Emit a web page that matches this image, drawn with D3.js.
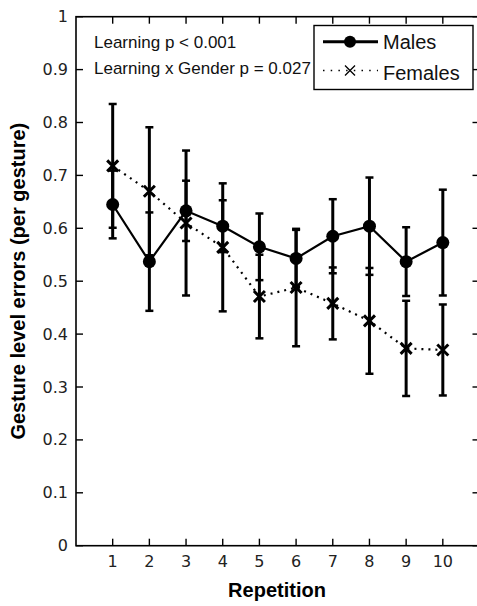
<!DOCTYPE html>
<html>
<head>
<meta charset="utf-8">
<script src="https://cdnjs.cloudflare.com/ajax/libs/d3/7.8.5/d3.min.js"></script>
<style>
  body { margin: 0; background: #fff; }
  svg { display: block; }
  .tick-label { font-family: "DejaVu Sans", sans-serif; font-size: 16px; fill: #222; }
  .axis-title { font-family: "Liberation Sans", Arial, sans-serif; font-size: 20px; font-weight: bold; fill: #000; }
  .note { font-family: "Liberation Sans", Arial, sans-serif; font-size: 17px; fill: #111; }
  .legend-text { font-family: "Liberation Sans", Arial, sans-serif; font-size: 20px; fill: #111; }
</style>
</head>
<body>
<svg width="477" height="606"></svg>
<script>
// values
var repetitions = [1, 2, 3, 4, 5, 6, 7, 8, 9, 10];
var maleMean   = [0.645, 0.537, 0.633, 0.604, 0.565, 0.543, 0.585, 0.604, 0.537, 0.573];
var maleErr    = [0.064, 0.093, 0.057, 0.049, 0.063, 0.054, 0.070, 0.092, 0.065, 0.100];
var femaleMean = [0.718, 0.670, 0.610, 0.564, 0.471, 0.488, 0.458, 0.425, 0.373, 0.370];
var femaleErr  = [0.117, 0.121, 0.137, 0.121, 0.079, 0.111, 0.068, 0.100, 0.090, 0.086];
var yTicks = [0, 0.1, 0.2, 0.3, 0.4, 0.5, 0.6, 0.7, 0.8, 0.9, 1];
var notes = ["Learning p < 0.001", "Learning x Gender p = 0.027"];
var seriesNames = ["Males", "Females"];

const svg = d3.select("svg"),
      x   = d3.scaleLinear().domain([0, 11]).range([76, 479.5]),
      y   = d3.scaleLinear().domain([0, 1]).range([545.7, 16.7]),
      tickLen = 7;

// axes box
svg.append("rect")
    .attr("x", x(0)).attr("y", y(1))
    .attr("width", x(11) - x(0)).attr("height", y(0) - y(1))
    .attr("fill", "none").attr("stroke", "#000").attr("stroke-width", 1.6);

// ticks pointing inward on all sides
const tickG = svg.append("g").attr("stroke", "#000").attr("stroke-width", 1.4);
yTicks.forEach(function(t) {
    tickG.append("line").attr("x1", x(0)).attr("x2", x(0) + tickLen).attr("y1", y(t)).attr("y2", y(t));
    tickG.append("line").attr("x1", x(11)).attr("x2", x(11) - tickLen).attr("y1", y(t)).attr("y2", y(t));
    svg.append("text").attr("class", "tick-label")
        .attr("x", x(0) - 8).attr("y", y(t) + 5.5)
        .attr("text-anchor", "end")
        .text(String(+t.toFixed(1)));
});
repetitions.forEach(function(r) {
    tickG.append("line").attr("x1", x(r)).attr("x2", x(r)).attr("y1", y(0)).attr("y2", y(0) - tickLen);
    tickG.append("line").attr("x1", x(r)).attr("x2", x(r)).attr("y1", y(1)).attr("y2", y(1) + tickLen);
    svg.append("text").attr("class", "tick-label")
        .attr("x", x(r)).attr("y", y(0) + 21)
        .attr("text-anchor", "middle")
        .text(r);
});

// axis titles
svg.append("text").attr("class", "axis-title")
    .attr("x", 277).attr("y", 596.5)
    .attr("text-anchor", "middle")
    .text("Repetition");
svg.append("text").attr("class", "axis-title")
    .attr("transform", "translate(25," + ((y(0) + y(1)) / 2) + ") rotate(-90)")
    .attr("text-anchor", "middle")
    .text("Gesture level errors (per gesture)");

// error bars
function drawErrorBars(mean, err) {
    const g = svg.append("g").attr("stroke", "#000");
    repetitions.forEach(function(r, i) {
        g.append("line").attr("stroke-width", 3)
            .attr("x1", x(r)).attr("x2", x(r))
            .attr("y1", y(mean[i] - err[i])).attr("y2", y(mean[i] + err[i]));
        [mean[i] - err[i], mean[i] + err[i]].forEach(function(v) {
            g.append("line").attr("stroke-width", 2.5)
                .attr("x1", x(r) - 4).attr("x2", x(r) + 4)
                .attr("y1", y(v)).attr("y2", y(v));
        });
    });
}
drawErrorBars(maleMean, maleErr);
drawErrorBars(femaleMean, femaleErr);

// female: dotted line with x markers
svg.append("path")
    .datum(repetitions)
    .attr("fill", "none").attr("stroke", "#000").attr("stroke-width", 2.2)
    .attr("stroke-dasharray", "2,5")
    .attr("d", d3.line().x(d => x(d)).y((d, i) => y(femaleMean[i])));

function crossPath(cx, cy, s) {
    return "M" + (cx - s) + "," + (cy - s) + "L" + (cx + s) + "," + (cy + s) +
           "M" + (cx - s) + "," + (cy + s) + "L" + (cx + s) + "," + (cy - s);
}
svg.append("g").selectAll("path")
    .data(repetitions)
    .enter().append("path")
      .attr("d", (d, i) => crossPath(x(d), y(femaleMean[i]), 5.5))
      .attr("stroke", "#000").attr("stroke-width", 3).attr("fill", "none");

// male: solid line with filled circles
svg.append("path")
    .datum(repetitions)
    .attr("fill", "none").attr("stroke", "#000").attr("stroke-width", 2.2)
    .attr("d", d3.line().x(d => x(d)).y((d, i) => y(maleMean[i])));

svg.append("g").selectAll("circle")
    .data(repetitions)
    .enter().append("circle")
      .attr("cx", d => x(d))
      .attr("cy", (d, i) => y(maleMean[i]))
      .attr("r", 6.5)
      .attr("fill", "#000");

// annotations
svg.selectAll(".note")
    .data(notes)
    .enter().append("text")
      .attr("class", "note")
      .attr("x", 94)
      .attr("y", (d, i) => 47.7 + i * 26.5)
      .text(d => d);

// legend
const legend = svg.append("g");
legend.append("rect")
    .attr("x", 314).attr("y", 25.5).attr("width", 159).attr("height", 64)
    .attr("fill", "#fff").attr("stroke", "#000").attr("stroke-width", 1.4);
legend.append("line")
    .attr("x1", 323).attr("x2", 378).attr("y1", 41.7).attr("y2", 41.7)
    .attr("stroke", "#000").attr("stroke-width", 3);
legend.append("circle").attr("cx", 350).attr("cy", 41.7).attr("r", 6).attr("fill", "#000");
legend.append("line")
    .attr("x1", 323).attr("x2", 378).attr("y1", 70.5).attr("y2", 70.5)
    .attr("stroke", "#000").attr("stroke-width", 1.5).attr("stroke-dasharray", "1.5,6.2");
legend.append("path")
    .attr("d", crossPath(350, 70.5, 5))
    .attr("stroke", "#000").attr("stroke-width", 1.3).attr("fill", "none");
legend.selectAll(".legend-text")
    .data(seriesNames)
    .enter().append("text")
      .attr("class", "legend-text")
      .attr("x", 383)
      .attr("y", (d, i) => 48.5 + i * 31)
      .text(d => d);
</script>
</body>
</html>
